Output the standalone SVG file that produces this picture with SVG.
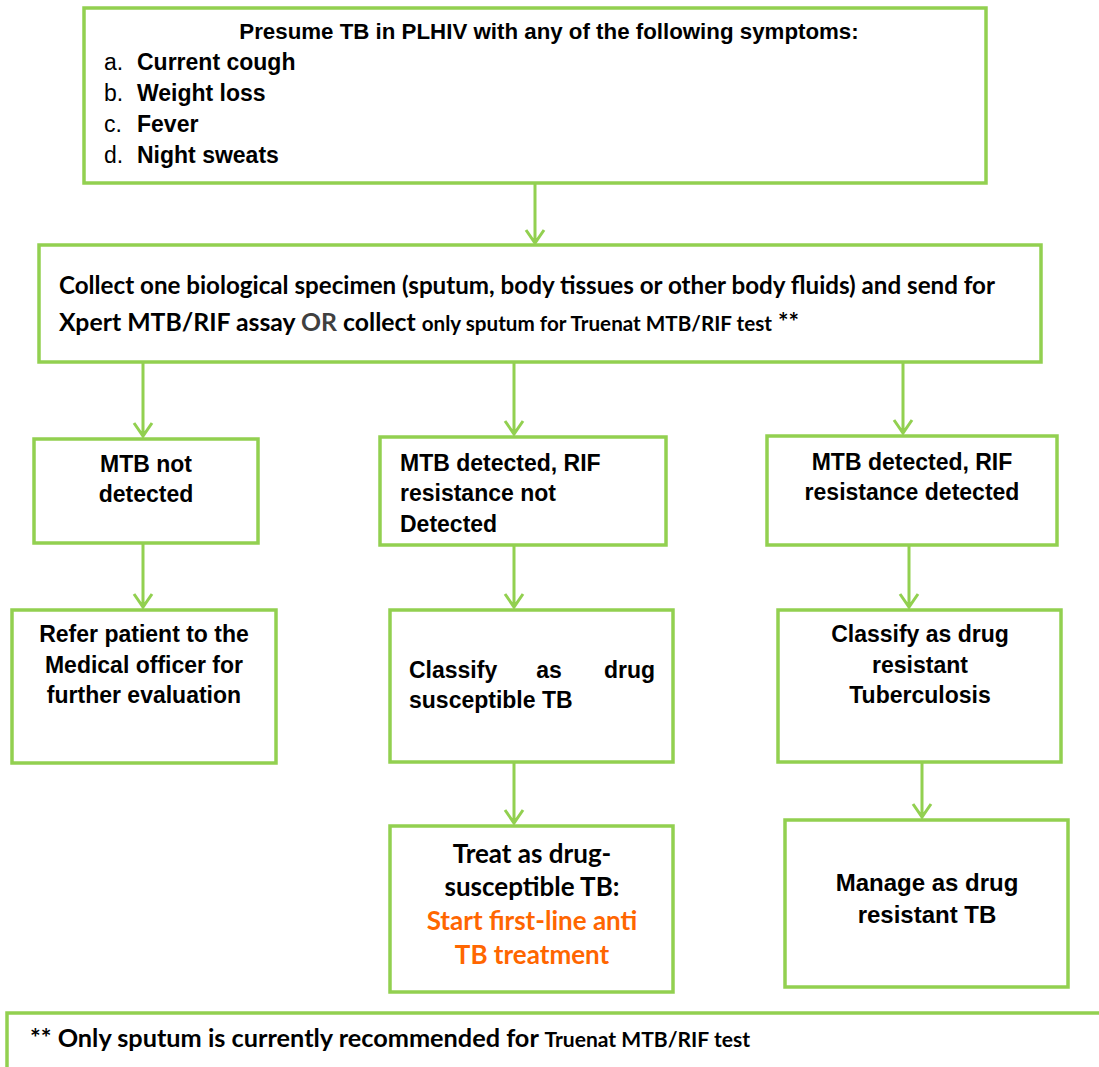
<svg xmlns="http://www.w3.org/2000/svg" width="1099" height="1067" viewBox="0 0 1099 1067">
<style>
.box{fill:#fff;stroke:#92D050;stroke-width:3.5}
.ln{fill:none;stroke:#92D050;stroke-width:3}
.a{font-family:"Liberation Sans",Arial,sans-serif;font-weight:bold;font-size:23px;fill:#000}
.an{font-family:"Liberation Sans",Arial,sans-serif;font-weight:normal;font-size:23px;fill:#000}
.c{font-family:Lato,"Open Sans",sans-serif;font-weight:bold;font-size:24px;fill:#000}
.cs{font-size:20px}
.or{fill:#FF6600}
.mid{text-anchor:middle}
</style>
<g id="connectors">
<path class="ln" d="M535,183 V243 M526,230 L535,243 L544,230"/>
<path class="ln" d="M143,362 V436 M134,423 L143,436 L152,423"/>
<path class="ln" d="M514,362 V434 M505,421 L514,434 L523,421"/>
<path class="ln" d="M903,362 V433 M894,420 L903,433 L912,420"/>
<path class="ln" d="M143,543 V607 M134,594 L143,607 L152,594"/>
<path class="ln" d="M514,545 V607 M505,594 L514,607 L523,594"/>
<path class="ln" d="M909,545 V607 M900,594 L909,607 L918,594"/>
<path class="ln" d="M514,762 V823 M505,810 L514,823 L523,810"/>
<path class="ln" d="M922,762 V817 M913,804 L922,817 L931,804"/>
</g>
<g id="n1">
<rect class="box" x="84" y="8" width="902" height="175"/>
<text class="a mid" x="549" y="39" style="font-size:22.3px">Presume TB in PLHIV with any of the following symptoms:</text>
<text class="an" x="104" y="70">a.</text><text class="a" x="137" y="70">Current cough</text>
<text class="an" x="104" y="101">b.</text><text class="a" x="137" y="101">Weight loss</text>
<text class="an" x="104" y="132">c.</text><text class="a" x="137" y="132">Fever</text>
<text class="an" x="104" y="163">d.</text><text class="a" x="137" y="163">Night sweats</text>
</g>
<g id="n2">
<rect class="box" x="39" y="245" width="1002" height="117"/>
<text class="c" x="59" y="294" textLength="936" lengthAdjust="spacingAndGlyphs">Collect one biological specimen (sputum, body tissues or other body fluids) and send for</text>
<text class="c" x="59" y="331" textLength="740" lengthAdjust="spacingAndGlyphs">Xpert MTB/RIF assay <tspan fill="#404040">OR</tspan> collect <tspan class="cs">only sputum for Truenat MTB/RIF test</tspan> **</text>
</g>
<g id="n3a">
<rect class="box" x="34" y="439" width="224" height="104"/>
<text class="a mid" x="146" y="472">MTB not</text>
<text class="a mid" x="146" y="502">detected</text>
</g>
<g id="n3b">
<rect class="box" x="380" y="437" width="286" height="108"/>
<text class="a" x="400" y="471">MTB detected, RIF</text>
<text class="a" x="400" y="501">resistance not</text>
<text class="a" x="400" y="532">Detected</text>
</g>
<g id="n3c">
<rect class="box" x="767" y="436" width="290" height="109"/>
<text class="a mid" x="912" y="470">MTB detected, RIF</text>
<text class="a mid" x="912" y="500">resistance detected</text>
</g>
<g id="n4a">
<rect class="box" x="12" y="610" width="264" height="153"/>
<text class="a mid" x="144" y="642">Refer patient to the</text>
<text class="a mid" x="144" y="673">Medical officer for</text>
<text class="a mid" x="144" y="703">further evaluation</text>
</g>
<g id="n4b">
<rect class="box" x="390" y="610" width="283" height="152"/>
<text class="a" x="409" y="678">Classify</text>
<text class="a mid" x="549" y="678">as</text>
<text class="a" x="655" y="678" text-anchor="end">drug</text>
<text class="a" x="409" y="708">susceptible TB</text>
</g>
<g id="n4c">
<rect class="box" x="778" y="610" width="283" height="152"/>
<text class="a mid" x="920" y="642">Classify as drug</text>
<text class="a mid" x="920" y="673">resistant</text>
<text class="a mid" x="920" y="703">Tuberculosis</text>
</g>
<g id="n5b">
<rect class="box" x="390" y="826" width="283" height="166"/>
<text class="c mid" x="532" y="863" style="font-size:26px">Treat as drug-</text>
<text class="c mid" x="532" y="896" style="font-size:26px">susceptible TB:</text>
<text class="c mid or" x="532" y="930" style="font-size:26px">Start first-line anti</text>
<text class="c mid or" x="532" y="964" style="font-size:26px">TB treatment</text>
</g>
<g id="n5c">
<rect class="box" x="785" y="820" width="283" height="167"/>
<text class="a mid" x="927" y="891" style="font-size:24px">Manage as drug</text>
<text class="a mid" x="927" y="923" style="font-size:24px">resistant TB</text>
</g>
<g id="footer">
<rect class="box" x="7" y="1013" width="1110" height="80"/>
<text class="c" x="30" y="1047" textLength="720" lengthAdjust="spacingAndGlyphs">** Only sputum is currently recommended for <tspan class="cs">Truenat MTB/RIF test</tspan></text>
</g>
</svg>
